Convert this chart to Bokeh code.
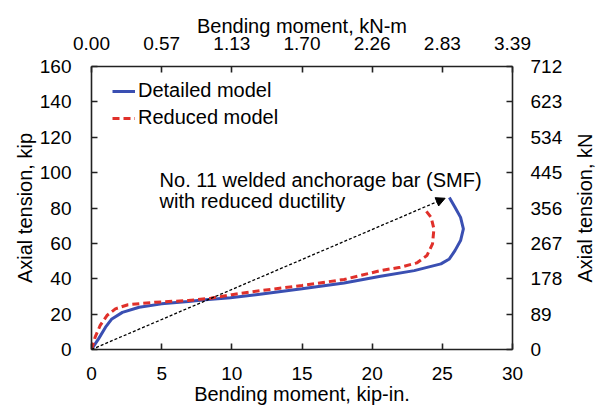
import math
from bokeh.plotting import figure
from bokeh.models import (LinearAxis, Range1d, Legend, LegendItem, Arrow,
                          NormalHead, FixedTicker, Label)
from bokeh.core.properties import value
from bokeh.embed import file_html
from bokeh.resources import INLINE

# ---------------- data ----------------
x_ticks = [0, 5, 10, 15, 20, 25, 30]
y_ticks = [0, 20, 40, 60, 80, 100, 120, 140, 160]
top_tick_labels = ["0.00", "0.57", "1.13", "1.70", "2.26", "2.83", "3.39"]
right_tick_labels = ["0", "89", "178", "267", "356", "445", "534", "623", "712"]

detailed_x = [0, 0.5, 1.0, 1.45, 2.2, 3.4, 5.0, 6.9, 8.1, 9.9, 12, 15, 18,
              20.6, 23.0, 24.9, 25.5, 25.9, 26.3, 26.5, 26.3, 25.9, 25.5]
detailed_y = [0, 6, 12.6, 17.3, 21, 23.9, 25.8, 27.1, 28.1, 29.2, 31.2, 34.3, 37.6,
              41.4, 44.6, 48.4, 51.2, 55.9, 61.6, 68.2, 74.7, 80.4, 86]

reduced_x = [0, 0.26, 0.62, 1.1, 1.7, 2.6, 4.5, 6.9, 8.5, 10, 12, 15, 18,
             20.6, 22.0, 23.2, 23.9, 24.3, 24.4, 24.2, 23.7]
reduced_y = [0, 7, 13.6, 19.2, 23, 25.3, 26.7, 27.7, 29, 31, 33.2, 36.2, 39.6,
             44.6, 46.5, 49, 53.1, 59.7, 68.2, 74.7, 79.8]

arrow_x = [0, 25.2]
arrow_y = [0, 85.5]

annot_lines = ["No. 11 welded anchorage bar (SMF)", "with reduced ductility"]
annot_x = [4.85, 4.85]
annot_y = [95.9, 84.0]

series_names = ["Detailed model", "Reduced model"]
right_title = "Axial tension, kN"

FONT = "Liberation Sans"
BLUE = "#3a4fb2"
RED = "#e0302a"

p = figure(width=603, height=407, x_range=Range1d(0, 30), y_range=Range1d(0, 160),
           output_backend="svg", toolbar_location=None,
           min_border_left=91, min_border_right=91, min_border_top=66,
           min_border_bottom=58)
p.xgrid.visible = False
p.ygrid.visible = False
p.outline_line_color = None
p.background_fill_color = "white"
p.border_fill_color = "white"

bottom_axis = p.xaxis[0]
left_axis = p.yaxis[0]
bottom_axis.ticker = FixedTicker(ticks=x_ticks)
left_axis.ticker = FixedTicker(ticks=y_ticks)
bottom_axis.axis_label = "Bending moment, kip-in."
left_axis.axis_label = "Axial tension, kip"

top_axis = LinearAxis(ticker=FixedTicker(ticks=x_ticks),
                      major_label_overrides={t: s for t, s in zip(x_ticks, top_tick_labels)},
                      axis_label="Bending moment, kN-m")
p.add_layout(top_axis, "above")

right_axis = LinearAxis(ticker=FixedTicker(ticks=y_ticks),
                        major_label_overrides={t: s for t, s in zip(y_ticks, right_tick_labels)})
p.add_layout(right_axis, "right")

for ax in [bottom_axis, left_axis, top_axis, right_axis]:
    ax.axis_line_color = "#222222"
    ax.axis_line_width = 1.6
    ax.major_tick_in = 6
    ax.major_tick_out = 0
    ax.major_tick_line_color = "#222222"
    ax.major_tick_line_width = 1.6
    ax.minor_tick_line_color = None
    ax.major_label_text_font = FONT
    ax.major_label_text_font_size = "19px"
    ax.major_label_text_color = "black"
    ax.axis_label_text_font = FONT
    ax.axis_label_text_font_size = "20px"
    ax.axis_label_text_font_style = "normal"
    ax.axis_label_text_color = "black"

bottom_axis.major_label_standoff = 17
bottom_axis.axis_label_standoff = 0
top_axis.major_label_standoff = 17
top_axis.axis_label_standoff = -3
left_axis.major_label_standoff = 20
left_axis.axis_label_standoff = 1
right_axis.major_label_standoff = 18

# right-hand axis title reads bottom-to-top, centred on the axis
p.add_layout(Label(x=19, y=141.5, x_units="screen", y_units="screen",
                   text=right_title, angle=math.pi / 2,
                   text_align="center", text_baseline="middle",
                   text_font=FONT, text_font_size="20px", text_color="black"),
             "right")

r_det = p.line(detailed_x, detailed_y, line_color=BLUE, line_width=3)
r_red = p.line(reduced_x, reduced_y, line_color=RED, line_width=3, line_dash="7 4")

p.add_layout(Arrow(end=NormalHead(size=9, fill_color="black", line_color="black"),
                   x_start=arrow_x[0], y_start=arrow_y[0],
                   x_end=arrow_x[1], y_end=arrow_y[1],
                   line_color="black", line_width=1.3, line_dash="3 2"))

p.text(x=annot_x, y=annot_y, text=annot_lines, text_font=value(FONT),
       text_font_size="20px", text_baseline="alphabetic", text_align="left",
       text_color="black")

legend = Legend(items=[LegendItem(label=series_names[0], renderers=[r_det]),
                       LegendItem(label=series_names[1], renderers=[r_red])],
                location=(21, 220), padding=0, spacing=4, margin=0,
                glyph_width=23, glyph_height=20, label_height=20, label_standoff=3,
                border_line_color=None, background_fill_alpha=0,
                label_text_font=FONT, label_text_font_size="20px",
                label_text_color="black")
p.add_layout(legend)

open("out.html", "w").write(file_html(p, INLINE))
